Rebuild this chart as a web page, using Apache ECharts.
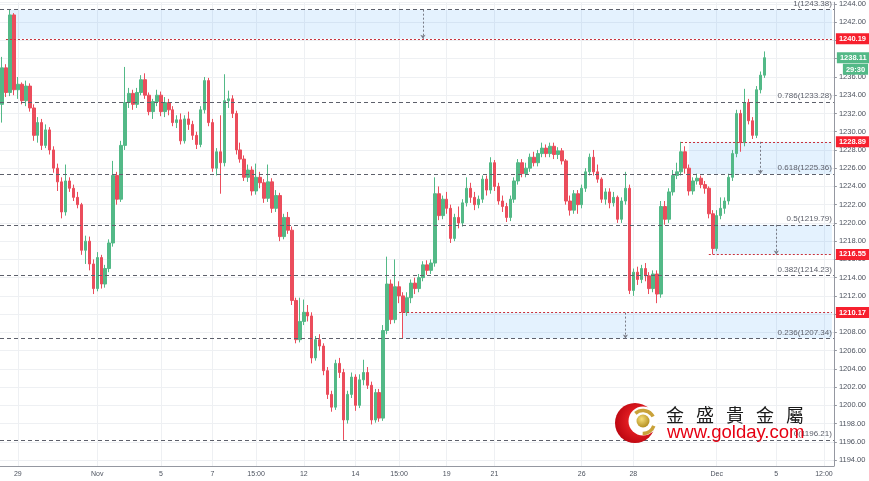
<!DOCTYPE html>
<html><head><meta charset="utf-8">
<script src="https://cdn.jsdelivr.net/npm/echarts@6/dist/echarts.min.js"></script>
<style>html,body{margin:0;padding:0;background:#fff}#c{width:869px;height:481px}</style>
</head><body><div id="c"></div>
<script>
// [open, close, low, high]
const ohlc = [
[1233.0,1237.0,1231.0,1238.2],[1237.0,1234.3,1233.8,1237.4],[1234.3,1242.8,1233.9,1243.38],[1242.8,1234.6,1234.0,1243.0],
[1234.6,1235.2,1233.6,1236.0],[1235.2,1233.4,1233.0,1235.4],[1233.4,1235.0,1232.8,1235.6],[1235.0,1232.6,1232.2,1235.3],
[1232.6,1229.6,1229.0,1233.0],[1229.6,1231.0,1228.8,1231.6],[1231.0,1228.5,1228.0,1231.4],[1228.5,1230.2,1228.2,1230.8],
[1230.2,1228.0,1227.5,1230.5],[1228.0,1226.0,1225.5,1228.4],[1226.0,1224.5,1223.5,1226.5],[1224.5,1221.2,1220.5,1225.0],
[1221.2,1224.6,1220.8,1226.4],[1224.6,1223.8,1223.4,1225.0],[1223.8,1222.8,1222.4,1224.2],[1222.8,1222.0,1221.6,1223.4],
[1222.0,1217.0,1216.5,1222.2],[1217.0,1218.0,1215.5,1218.6],[1218.0,1215.5,1214.8,1218.5],[1215.5,1212.8,1212.2,1216.0],
[1212.8,1216.2,1212.5,1216.8],[1216.2,1213.3,1212.8,1216.5],[1213.3,1215.0,1212.9,1215.4],[1215.0,1217.8,1214.6,1218.2],
[1217.8,1225.2,1217.4,1226.8],[1225.2,1222.6,1222.0,1225.6],[1222.6,1228.5,1222.3,1229.0],[1228.5,1233.2,1228.0,1237.1],
[1233.2,1234.2,1232.6,1234.8],[1234.2,1233.0,1232.4,1234.6],[1233.0,1234.3,1232.6,1234.8],[1234.3,1235.7,1234.0,1236.2],
[1235.7,1234.0,1233.6,1236.4],[1234.0,1232.2,1231.8,1234.3],[1232.2,1233.3,1231.4,1233.6],[1233.3,1234.0,1232.8,1234.6],
[1234.0,1232.2,1231.7,1234.4],[1232.2,1233.2,1231.6,1233.8],[1233.2,1232.4,1231.8,1233.6],[1232.4,1231.0,1230.6,1232.8],
[1231.0,1231.3,1230.4,1231.8],[1231.3,1229.0,1228.6,1232.0],[1229.0,1231.4,1228.7,1231.8],[1231.4,1230.8,1230.2,1232.2],
[1230.8,1229.6,1229.1,1231.2],[1229.6,1228.6,1228.1,1230.0],[1228.6,1232.4,1228.3,1232.8],[1232.4,1235.6,1232.0,1236.0],
[1235.6,1231.0,1230.6,1235.9],[1231.0,1226.0,1225.6,1231.4],[1226.0,1227.8,1225.2,1228.2],[1227.8,1226.6,1223.2,1231.8],
[1226.6,1233.4,1226.2,1236.3],[1233.4,1233.6,1232.6,1234.5],[1233.6,1232.0,1231.5,1234.0],[1232.0,1228.0,1227.5,1232.3],
[1228.0,1227.0,1226.6,1228.8],[1227.0,1225.0,1224.6,1227.4],[1225.0,1225.8,1224.5,1226.4],[1225.8,1223.5,1223.0,1226.2],
[1223.5,1225.0,1223.1,1226.5],[1225.0,1224.4,1223.8,1225.6],[1224.4,1222.7,1222.2,1224.8],[1222.7,1224.5,1222.3,1226.4],
[1224.5,1221.6,1221.1,1224.9],[1221.6,1223.0,1221.2,1223.6],[1223.0,1218.5,1218.0,1223.3],[1218.5,1220.6,1218.2,1221.0],
[1220.6,1219.2,1218.8,1221.2],[1219.2,1211.5,1211.0,1219.6],[1211.5,1207.2,1206.8,1211.8],[1207.2,1209.2,1206.9,1211.8],
[1209.2,1210.2,1208.8,1211.6],[1210.2,1209.8,1209.2,1211.0],[1209.8,1205.2,1204.6,1210.2],[1205.2,1207.2,1204.9,1207.6],
[1207.2,1206.5,1206.0,1207.8],[1206.5,1203.8,1203.3,1206.8],[1203.8,1201.2,1200.7,1204.2],[1201.2,1199.8,1199.3,1201.6],
[1199.8,1204.6,1199.5,1205.0],[1204.6,1203.6,1203.0,1205.2],[1203.6,1198.4,1196.21,1204.0],[1198.4,1201.2,1198.0,1201.6],
[1201.2,1203.1,1200.8,1203.6],[1203.1,1200.0,1199.4,1203.4],[1200.0,1202.8,1199.7,1203.4],[1202.8,1203.6,1202.2,1205.0],
[1203.6,1202.2,1201.8,1204.2],[1202.2,1198.4,1197.9,1202.6],[1198.4,1201.4,1198.1,1201.8],[1201.4,1198.6,1198.2,1201.8],
[1198.6,1208.2,1198.3,1208.8],[1208.2,1213.3,1207.8,1216.3],[1213.3,1209.4,1208.9,1213.8],[1209.4,1213.0,1209.0,1216.0],
[1213.0,1212.0,1211.2,1213.6],[1212.0,1210.2,1207.34,1212.4],[1210.2,1211.8,1209.8,1212.4],[1211.8,1213.4,1211.2,1213.8],
[1213.4,1212.8,1212.2,1214.0],[1212.8,1214.0,1212.4,1214.4],[1214.0,1215.4,1213.6,1215.8],[1215.4,1214.8,1214.3,1215.9],
[1214.8,1215.6,1214.4,1216.0],[1215.6,1223.2,1215.2,1225.0],[1223.2,1220.8,1220.3,1224.0],[1220.8,1222.6,1220.4,1223.0],
[1222.6,1221.6,1221.0,1223.4],[1221.6,1218.3,1217.8,1222.0],[1218.3,1220.6,1218.0,1221.0],[1220.6,1220.0,1219.4,1221.8],
[1220.0,1222.2,1219.6,1222.6],[1222.2,1223.8,1221.8,1225.0],[1223.8,1222.8,1222.2,1224.4],[1222.8,1222.0,1221.4,1223.4],
[1222.0,1222.6,1221.6,1223.0],[1222.6,1224.8,1222.2,1225.2],[1224.8,1223.6,1223.0,1225.2],[1223.6,1226.6,1223.2,1227.2],
[1226.6,1224.0,1223.5,1226.9],[1224.0,1222.4,1222.0,1224.4],[1222.4,1221.8,1221.2,1223.0],[1221.8,1220.6,1220.1,1222.2],
[1220.6,1222.6,1220.2,1223.0],[1222.6,1224.6,1222.2,1225.0],[1224.6,1226.6,1224.2,1227.0],[1226.6,1225.4,1225.0,1227.0],
[1225.4,1226.0,1225.0,1226.6],[1226.0,1227.2,1225.6,1227.6],[1227.2,1226.6,1226.2,1227.8],[1226.6,1227.6,1226.2,1228.0],
[1227.6,1228.2,1227.2,1228.8],[1228.2,1227.6,1227.2,1228.6],[1227.6,1228.4,1227.2,1228.8],[1228.4,1227.5,1227.0,1228.8],
[1227.5,1227.9,1227.0,1228.3],[1227.9,1226.8,1226.4,1228.2],[1226.8,1222.4,1222.0,1227.0],[1222.4,1221.4,1220.8,1223.0],
[1221.4,1223.2,1221.0,1223.6],[1223.2,1222.0,1221.0,1223.6],[1222.0,1223.8,1221.6,1224.2],[1223.8,1225.6,1223.4,1226.0],
[1225.6,1227.2,1225.2,1227.6],[1227.2,1225.6,1225.2,1228.0],[1225.6,1224.8,1224.4,1226.4],[1224.8,1222.6,1222.2,1225.0],
[1222.6,1223.4,1222.0,1223.8],[1223.4,1222.2,1221.6,1223.8],[1222.2,1222.8,1221.8,1223.4],[1222.8,1220.4,1220.0,1223.0],
[1220.4,1222.4,1220.0,1222.8],[1222.4,1223.8,1222.0,1225.6],[1223.8,1212.6,1212.2,1224.2],[1212.6,1214.6,1212.0,1215.0],
[1214.6,1213.8,1213.2,1215.2],[1213.8,1215.0,1213.4,1215.4],[1215.0,1214.2,1213.6,1215.6],[1214.2,1212.8,1212.2,1214.6],
[1212.8,1214.4,1212.4,1214.8],[1214.4,1212.2,1211.2,1214.8],[1212.2,1221.8,1211.8,1222.4],[1221.8,1220.4,1219.8,1222.4],
[1220.4,1223.4,1220.0,1223.8],[1223.4,1225.2,1223.0,1225.8],[1225.2,1225.6,1224.8,1226.6],[1225.6,1227.8,1225.2,1228.89],
[1227.8,1226.0,1225.4,1228.4],[1226.0,1223.5,1223.0,1226.4],[1223.5,1224.6,1223.1,1225.0],[1224.6,1224.9,1224.2,1225.4],
[1224.9,1224.2,1223.8,1225.2],[1224.2,1223.8,1223.2,1224.6],[1223.8,1221.0,1220.5,1224.0],[1221.0,1217.2,1216.55,1221.4],
[1217.2,1220.8,1216.9,1221.4],[1220.8,1221.6,1220.4,1222.8],[1221.6,1222.4,1221.0,1222.8],[1222.4,1225.0,1222.0,1225.4],
[1225.0,1227.6,1224.6,1228.0],[1227.6,1232.0,1227.2,1232.4],[1232.0,1228.8,1227.8,1232.4],[1228.8,1233.2,1228.4,1234.7],
[1233.2,1231.2,1230.8,1233.6],[1231.2,1229.6,1229.2,1231.6],[1229.6,1234.6,1229.3,1235.0],[1234.6,1236.2,1234.2,1236.6],
[1236.2,1238.11,1235.9,1238.8]
];
const categoryCount = 210;
const xLabelIndex = [4, 24, 40, 53, 64, 76, 89, 100, 112, 124, 146, 159, 180, 195, 207];
const xLabelText = ['29', 'Nov', '5', '7', '15:00', '12', '14', '15:00', '19', '21', '26', '28', 'Dec', '5', '12:00'];
const yMin = 1193.35, yMax = 1244.19;
const fibRatios = ['1', '0.786', '0.618', '0.5', '0.382', '0.236', '0'];
const fibValues = [1243.38, 1233.28, 1225.36, 1219.79, 1214.23, 1207.34, 1196.21];
const levelValues = [1240.19, 1228.89, 1216.55, 1210.17];
const levelStart = [1, 171, 178, 100];
const zoneTop = [1243.38, 1228.89, 1219.79, 1210.17];
const zoneBottom = [1240.19, 1225.36, 1216.55, 1207.34];
const zoneStart = [2, 173, 179, 101];
const zoneMarker = [106, 191, 195, 157];
const lastPrice = 1238.11;
const countdown = '29:30';
const logoChars = ['金', '盛', '貴', '金', '屬'];
const logoUrl = 'www.golday.com';

const UP = '#53b987', DOWN = '#eb4d5c';
const categories = Array.from({length: categoryCount}, (_, i) => String(i));
const labelMap = new Map(xLabelIndex.map((idx, k) => [idx, xLabelText[k]]));
const showIdx = (i) => labelMap.has(i);
const lastCat = categoryCount - 1;

const markLines = [];
fibValues.forEach((v, k) => {
  markLines.push({
    yAxis: v,
    lineStyle: {type: [4, 3], color: '#5d606b', width: 1},
    label: {show: true, position: 'insideEndTop', distance: 2, formatter: fibRatios[k] + '(' + v.toFixed(2) + ')',
      color: '#5d606b', fontSize: 8}
  });
});
levelValues.forEach((v, k) => {
  markLines.push([
    {coord: [levelStart[k], v], lineStyle: {type: [2, 2], color: '#c8323c', width: 1},
      label: {show: true, position: 'end', distance: 4, formatter: v.toFixed(2), backgroundColor: '#f7202e',
        color: '#fff', fontSize: 7.5, fontWeight: 'bold', padding: [2, 3, 1, 3]}},
    {coord: [lastCat, v]}
  ]);
});
zoneMarker.forEach((m, k) => {
  markLines.push([
    {coord: [m, zoneTop[k]], lineStyle: {type: [2, 2], color: '#787b86', width: 1}, label: {show: false}},
    {coord: [m, zoneBottom[k]], symbol: 'arrow', symbolSize: 4}
  ]);
});
markLines.push({
  yAxis: lastPrice,
  lineStyle: {color: 'rgba(0,0,0,0)', width: 1},
  label: {show: true, position: 'end', distance: 3,
    formatter: '{e|}\n{a|' + lastPrice.toFixed(2) + '}\n{s|}{b|' + countdown + '}',
    rich: {
      e: {lineHeight: 11.5, fontSize: 7.5},
      a: {backgroundColor: UP, color: '#fff', fontSize: 7.5, fontWeight: 'bold', padding: [2, 3, 1, 3], lineHeight: 11.5},
      s: {width: 6, fontSize: 7.5},
      b: {backgroundColor: UP, color: '#fff', fontSize: 7.5, fontWeight: 'bold', padding: [2, 3, 1, 3], lineHeight: 11.5}
    }}
});

const zones = zoneTop.map((t, k) => [{coord: [zoneStart[k], t]}, {coord: [lastCat, zoneBottom[k]]}]);

const graphics = [
  {type: 'circle', z: 100, shape: {cx: 635, cy: 423, r: 20},
    style: {fill: new echarts.graphic.RadialGradient(0.6, 0.45, 0.7, [{offset: 0, color: '#ff3030'}, {offset: 1, color: '#b3000c'}])}},
  {type: 'circle', z: 101, shape: {cx: 643, cy: 421, r: 14.5}, style: {fill: '#fff'}},
  {type: 'arc', z: 102, shape: {cx: 643, cy: 422, r: 11.5, startAngle: -2.3, endAngle: -0.5}, style: {stroke: '#c9a23a', lineWidth: 3.5, fill: null}},
  {type: 'arc', z: 102, shape: {cx: 643, cy: 422, r: 11.5, startAngle: 0.35, endAngle: 1.6}, style: {stroke: '#c9a23a', lineWidth: 3.5, fill: null}},
  {type: 'circle', z: 103, shape: {cx: 643, cy: 421, r: 6.5},
    style: {fill: new echarts.graphic.RadialGradient(0.4, 0.35, 0.7, [{offset: 0, color: '#f6df7a'}, {offset: 1, color: '#b08a1c'}])}},
  {type: 'text', z: 104, x: 667, y: 433, style: {text: logoUrl, fontSize: 18.5, fontFamily: 'Liberation Sans', fill: '#e60012', verticalAlign: 'middle'}}
];
logoChars.forEach((ch, k) => {
  graphics.push({type: 'text', z: 104, x: 666 + k * 30, y: 415,
    style: {text: ch, fontSize: 18, fontFamily: 'Noto Sans CJK TC', fill: '#1a1a1a', verticalAlign: 'middle'}});
});

const chart = echarts.init(document.getElementById('c'), null, {renderer: 'canvas'});
chart.setOption({
  animation: false,
  backgroundColor: '#fff',
  textStyle: {fontFamily: 'Liberation Sans'},
  grid: {left: 0, right: 31, top: 0, bottom: 15, containLabel: false},
  xAxis: {
    type: 'category', data: categories, boundaryGap: true,
    axisLine: {lineStyle: {color: '#9598a1'}},
    axisTick: {alignWithLabel: true, interval: showIdx, length: 3, lineStyle: {color: '#9598a1'}},
    axisLabel: {interval: showIdx, formatter: (v, i) => labelMap.get(i) || '', color: '#4c525e', fontSize: 7, margin: 5},
    splitLine: {show: true, alignWithLabel: true, interval: showIdx, lineStyle: {color: '#eef0f3'}}
  },
  yAxis: {
    type: 'value', position: 'right', min: yMin, max: yMax, splitNumber: 25,
    axisLine: {show: true, lineStyle: {color: '#9598a1'}},
    axisTick: {show: true, length: 3, lineStyle: {color: '#9598a1'}},
    axisLabel: {color: '#4c525e', fontSize: 7.5, margin: 5, showMinLabel: false, showMaxLabel: false,
      formatter: (v) => v.toFixed(2)},
    splitLine: {lineStyle: {color: '#eef0f3'}}
  },
  series: [{
    type: 'candlestick',
    data: ohlc,
    barWidth: 3,
    itemStyle: {color: UP, color0: DOWN, borderColor: UP, borderColor0: DOWN, borderWidth: 1},
    markArea: {silent: true, itemStyle: {color: 'rgba(33,150,243,0.12)'}, data: zones},
    markLine: {silent: true, symbol: ['none', 'none'], animation: false, data: markLines}
  }],
  graphic: graphics
});
</script>
</body></html>
